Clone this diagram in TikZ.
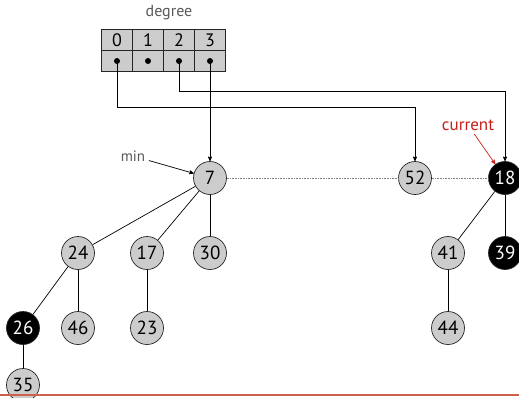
\documentclass[tikz,border=0pt]{standalone}
\usepackage{fontspec}
\setmainfont{PT Sans}
\usepackage{tikz}
\usetikzlibrary{arrows,automata,positioning}
\definecolor{bottomline}{RGB}{205,95,75}
\definecolor{pointer}{RGB}{200,30,25}

\begin{document}
\begin{tikzpicture}[x=1pt,y=-1pt,>=stealth',auto,node distance=75pt,line width=0.7pt,
    every state/.style={draw=black!85,fill=gray!40,minimum size=33pt,inner sep=0pt,line width=0.7pt,font=\fontsize{19}{22}\selectfont},
    marked/.style={fill=black,text=white},
    cell/.style={draw=black!85,fill=gray!40,minimum width=31pt,minimum height=21pt,inner sep=0pt,font=\fontsize{18}{21}\selectfont},
    ptr/.style={circle,fill=black,inner sep=0pt,minimum size=6pt},
    lbl/.style={text=black!65,font=\fontsize{15}{18}\selectfont}]
  \useasboundingbox (0,0) rectangle (519,397);
  \clip (0,0) rectangle (519,397);

  % degree table
  \node[lbl,font=\fontsize{16}{19}\selectfont] (degree) at (169,13) {degree};
  \node[cell] (deg0) at (117,40) {0};
  \node[cell] (deg1) [right of=deg0,node distance=31pt] {1};
  \node[cell] (deg2) [right of=deg1,node distance=31pt] {2};
  \node[cell] (deg3) [right of=deg2,node distance=31pt] {3};
  \node[cell] (slot0) [below of=deg0,node distance=21pt] {};
  \node[cell] (slot1) [below of=deg1,node distance=21pt] {};
  \node[cell] (slot2) [below of=deg2,node distance=21pt] {};
  \node[cell] (slot3) [below of=deg3,node distance=21pt] {};
  \node[ptr] (p0) at (slot0) {};
  \node[ptr] (p1) at (slot1) {};
  \node[ptr] (p2) at (slot2) {};
  \node[ptr] (p3) at (slot3) {};

  % root list
  \node[state] (n7) at (210,178) {7};
  \node[state] (n52) at (415,178) {52};
  \node[state,marked] (n18) [right of=n52,node distance=90pt] {18};

  % children
  \node[state] (n30) [below of=n7] {30};
  \node[state] (n17) [left of=n30,node distance=63pt] {17};
  \node[state] (n24) [left of=n17,node distance=69pt] {24};
  \node[state] (n46) [below of=n24] {46};
  \node[state] (n23) [below of=n17] {23};
  \node[state,marked] (n26) [left of=n46,node distance=55pt] {26};
  \node[state] (n35) [below of=n26,node distance=57pt] {35};
  \node[state,marked] (n39) [below of=n18] {39};
  \node[state] (n41) [left of=n39,node distance=57pt] {41};
  \node[state] (n44) [below of=n41] {44};

  \path[draw]
        (n7) edge (n24)
        (n7) edge (n17)
        (n7) edge (n30)
        (n24) edge (n26)
        (n24) edge (n46)
        (n17) edge (n23)
        (n26) edge (n35)
        (n18) edge (n41)
        (n18) edge (n39)
        (n41) edge (n44);

  \draw[gray,densely dotted,line width=0.6pt] (n7) -- (n52) -- (n18);

  % pointers out of the table
  \coordinate (turn0) at (117,107);
  \coordinate (turn2) at (179,91);
  \draw[->] (p0.center) -- (turn0) -| (n52);
  \draw[->] (p2.center) -- (turn2) -| (n18);
  \draw[->] (p3.center) -- (n7);

  \node[lbl] (min) at (133,156) {min};
  \draw[->] (min) -- (n7);
  \node[lbl,text=pointer,font=\fontsize{17}{20}\selectfont] (current) at (468,125) {current};
  \draw[->,pointer] (current) -- (n18);

  \draw[bottomline,line width=2pt] (0,395) -- (519,395);
\end{tikzpicture}
\end{document}
